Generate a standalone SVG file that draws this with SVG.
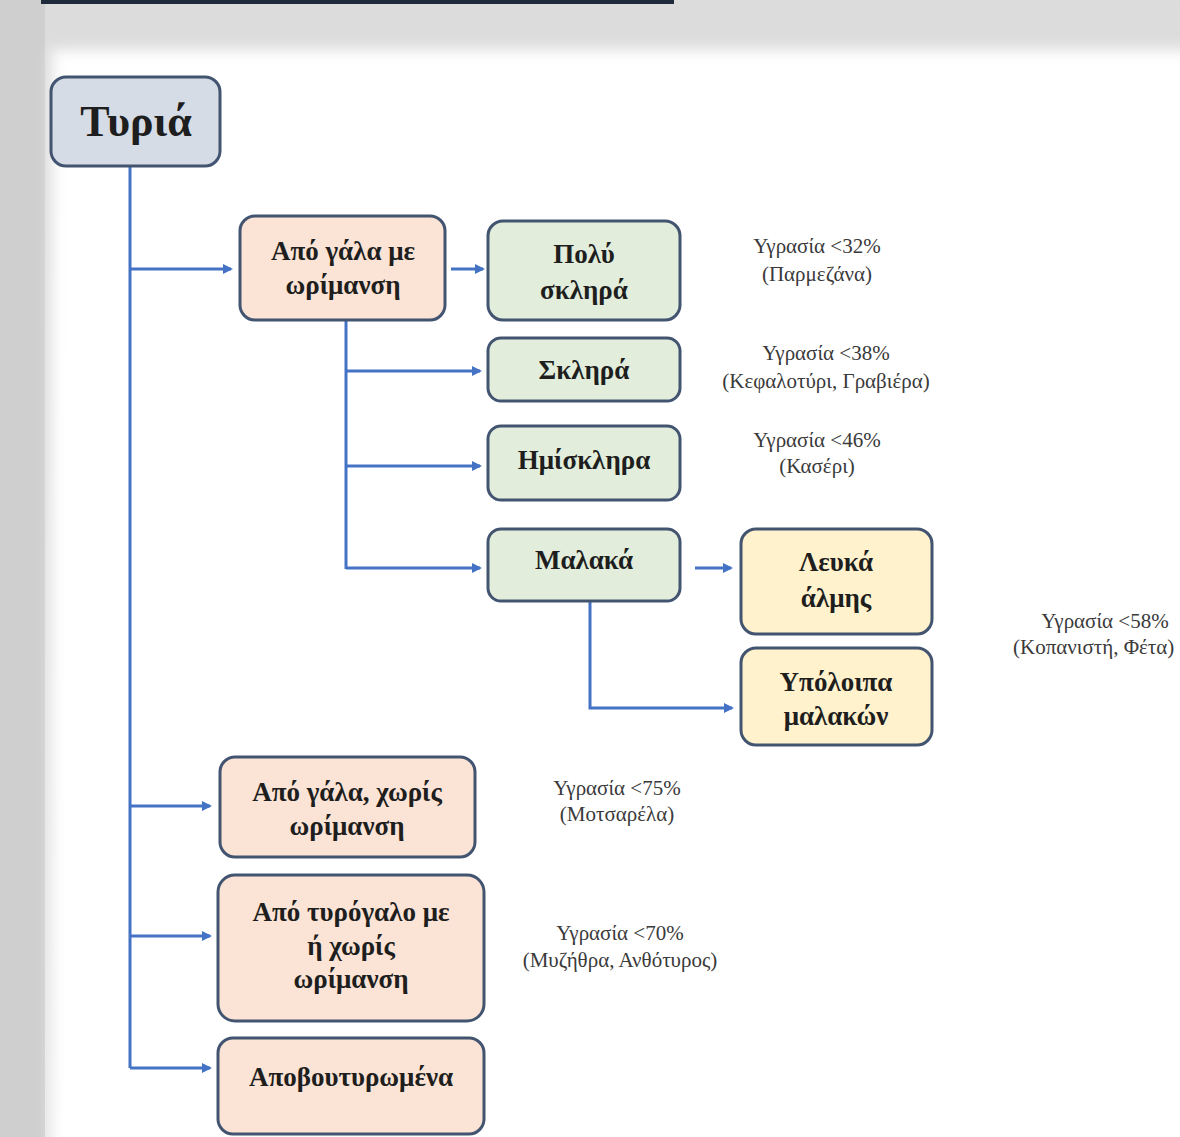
<svg xmlns="http://www.w3.org/2000/svg" width="1180" height="1137" viewBox="0 0 1180 1137">
<defs>
<style>
.box{stroke:#42546f;stroke-width:3}
.root{fill:#d6dce6}
.peach{fill:#fbe4d5}
.green{fill:#e2eedb}
.yellow{fill:#fff2cd}
.bt{font-family:"Liberation Serif","DejaVu Serif",serif;font-weight:bold;font-size:27px;fill:#1e1e1e;text-anchor:middle}
.note{font-family:"Liberation Serif","DejaVu Serif",serif;font-size:21px;fill:#3a3a3a;text-anchor:middle}
.conn{stroke:#4472c4;stroke-width:3;fill:none}
</style>
<marker id="ah" markerWidth="10" markerHeight="10" refX="8" refY="5" orient="auto" markerUnits="userSpaceOnUse">
<path d="M0,0 L10,5 L0,10 z" fill="#4472c4"/>
</marker>
<filter id="soft" x="-5%" y="-5%" width="110%" height="110%">
<feGaussianBlur stdDeviation="7"/>
</filter>
<linearGradient id="topg" x1="0" y1="0" x2="0" y2="1">
<stop offset="0" stop-color="#dcdcdc"/>
<stop offset="1" stop-color="#e6e6e6"/>
</linearGradient>
</defs>
<rect x="0" y="0" width="1180" height="1137" fill="url(#topg)"/>
<rect x="0" y="0" width="45" height="1137" fill="#cfcfcf"/>
<rect x="52" y="50" width="1160" height="1120" fill="#ffffff" filter="url(#soft)"/>
<rect x="41" y="0" width="633" height="4" fill="#1f2a3a"/>

<g id="connectors">
<path class="conn" d="M130,166 V1068"/>
<path class="conn" d="M130,269 H231" marker-end="url(#ah)"/>
<path class="conn" d="M130,806 H210" marker-end="url(#ah)"/>
<path class="conn" d="M130,936 H210" marker-end="url(#ah)"/>
<path class="conn" d="M130,1068 H210" marker-end="url(#ah)"/>
<path class="conn" d="M451,269 H483" marker-end="url(#ah)"/>
<path class="conn" d="M346,320 V569"/>
<path class="conn" d="M346,371 H480" marker-end="url(#ah)"/>
<path class="conn" d="M346,466 H480" marker-end="url(#ah)"/>
<path class="conn" d="M346,568 H480" marker-end="url(#ah)"/>
<path class="conn" d="M695,568 H731" marker-end="url(#ah)"/>
<path class="conn" d="M590,601 V708 H732" marker-end="url(#ah)"/>
</g>

<g id="n-tyria">
<rect class="box root" x="51" y="77" width="169" height="89" rx="15"/>
<text class="bt" x="136" y="136" style="font-size:44px">Τυριά</text>
</g>
<g id="n-apo-gala-me">
<rect class="box peach" x="240" y="216" width="205" height="104" rx="15"/>
<text class="bt" x="343" y="260">Από γάλα με</text>
<text class="bt" x="343" y="294">ωρίμανση</text>
</g>
<g id="n-poly-sklira">
<rect class="box green" x="488" y="221" width="192" height="99" rx="15"/>
<text class="bt" x="584" y="263">Πολύ</text>
<text class="bt" x="584" y="299">σκληρά</text>
</g>
<g id="n-sklira">
<rect class="box green" x="488" y="338" width="192" height="63" rx="13"/>
<text class="bt" x="584" y="379">Σκληρά</text>
</g>
<g id="n-imisklira">
<rect class="box green" x="488" y="426" width="192" height="74" rx="13"/>
<text class="bt" x="584" y="469">Ημίσκληρα</text>
</g>
<g id="n-malaka">
<rect class="box green" x="488" y="529" width="192" height="72" rx="13"/>
<text class="bt" x="584" y="569">Μαλακά</text>
</g>
<g id="n-lefka">
<rect class="box yellow" x="741" y="529" width="191" height="105" rx="15"/>
<text class="bt" x="836" y="571">Λευκά</text>
<text class="bt" x="836" y="607">άλμης</text>
</g>
<g id="n-ypoloipa">
<rect class="box yellow" x="741" y="648" width="191" height="97" rx="15"/>
<text class="bt" x="836" y="691">Υπόλοιπα</text>
<text class="bt" x="836" y="725">μαλακών</text>
</g>
<g id="n-xoris">
<rect class="box peach" x="220" y="757" width="255" height="100" rx="15"/>
<text class="bt" x="347" y="801">Από γάλα, χωρίς</text>
<text class="bt" x="347" y="835">ωρίμανση</text>
</g>
<g id="n-tyrogalo">
<rect class="box peach" x="218" y="875" width="266" height="146" rx="17"/>
<text class="bt" x="351" y="921">Από τυρόγαλο με</text>
<text class="bt" x="351" y="955">ή χωρίς</text>
<text class="bt" x="351" y="988">ωρίμανση</text>
</g>
<g id="n-apovoutyr">
<rect class="box peach" x="218" y="1038" width="266" height="96" rx="15"/>
<text class="bt" x="351" y="1086">Αποβουτυρωμένα</text>
</g>

<g id="notes">
<text class="note" x="817" y="253">Υγρασία &lt;32%</text>
<text class="note" x="817" y="281">(Παρμεζάνα)</text>
<text class="note" x="826" y="360">Υγρασία &lt;38%</text>
<text class="note" x="826" y="388">(Κεφαλοτύρι, Γραβιέρα)</text>
<text class="note" x="817" y="447">Υγρασία &lt;46%</text>
<text class="note" x="817" y="473">(Κασέρι)</text>
<text class="note" x="1105" y="628">Υγρασία &lt;58%</text>
<text class="note" x="1013" y="654" style="text-anchor:start">(Κοπανιστή, Φέτα)</text>
<text class="note" x="617" y="795">Υγρασία &lt;75%</text>
<text class="note" x="617" y="821">(Μοτσαρέλα)</text>
<text class="note" x="620" y="940">Υγρασία &lt;70%</text>
<text class="note" x="620" y="967">(Μυζήθρα, Ανθότυρος)</text>
</g>
</svg>
